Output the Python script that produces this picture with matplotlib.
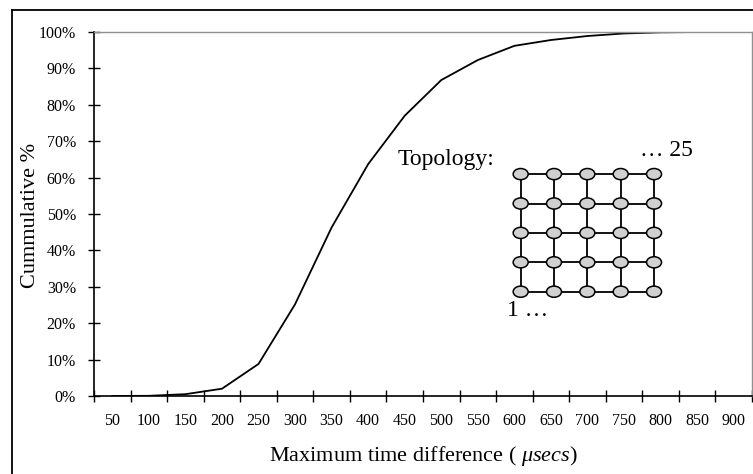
import matplotlib
matplotlib.use("Agg")
import matplotlib.pyplot as plt
from matplotlib.patches import Ellipse
import numpy as np

plt.rcParams['font.family'] = ['Liberation Serif', 'DejaVu Serif']
plt.rcParams['mathtext.fontset'] = 'custom'
plt.rcParams['mathtext.rm'] = 'Liberation Serif'
plt.rcParams['mathtext.it'] = 'Liberation Serif:italic'

# cumulative distribution of the maximum time difference
time_bins = [50, 100, 150, 200, 250, 300, 350, 400, 450, 500,
             550, 600, 650, 700, 750, 800, 850, 900]
cumulative_pct = [0.0, 0.05, 0.5, 2.0, 8.8, 25.2, 46.3, 63.7, 77.0, 86.8,
                  92.3, 96.2, 97.8, 98.9, 99.6, 99.9, 100.0, 100.0]
y_ticks = list(range(0, 101, 10))
grid_n = 5

W, H = 753, 474
fig = plt.figure(figsize=(W / 100, H / 100), dpi=100)

# outer chart frame (left and top edges only, the rest runs off the image)
fig.add_artist(plt.Line2D([12 / W, 12 / W], [0, 1 - 10 / H], color='black', lw=1.3))
fig.add_artist(plt.Line2D([12 / W, 1], [1 - 10 / H, 1 - 10 / H], color='black', lw=1.3))

ax = fig.add_axes([94 / W, 1 - 396 / H, (752 - 94) / W, (396 - 32) / H])
pos = np.arange(len(time_bins)) + 0.5
ax.plot(pos, cumulative_pct, color='black', lw=1.3)

ax.set_xlim(0, len(time_bins))
ax.set_ylim(0, 100)
ax.set_xticks(np.arange(len(time_bins) + 1))
ax.set_xticklabels([])
ax.set_xticks(pos, minor=True)
ax.set_xticklabels([str(t) for t in time_bins], minor=True)
ax.set_yticks(y_ticks)
ax.set_yticklabels([f'{v}%' for v in y_ticks])

ax.tick_params(axis='x', which='major', direction='inout', length=8, width=1)
ax.tick_params(axis='x', which='minor', length=0, pad=12, labelsize=11.5)
ax.tick_params(axis='y', direction='inout', length=8, width=1, pad=9, labelsize=11.5)

for side in ('top', 'right'):
    ax.spines[side].set_color('#909090')
    ax.spines[side].set_linewidth(1)
for side in ('left', 'bottom'):
    ax.spines[side].set_linewidth(1.2)

fig.text(423 / W, 1 - 456 / H, 'Maximum time difference ( $\\mathit{\u03bcsecs}$)',
         ha='center', va='center', fontsize=16)
fig.text(31 / W, 1 - 215 / H, 'Cummulative %', rotation=90,
         ha='center', va='center', fontsize=16)

# 5x5 mesh topology sketch
ins = fig.add_axes([504 / W, 1 - 306.4 / H, 166.7 / W, 147 / H])
ins.set_xlim(-0.5, grid_n - 0.5)
ins.set_ylim(-0.5, grid_n - 0.5)
ins.axis('off')
for i in range(grid_n):
    ins.plot([0, grid_n - 1], [i, i], color='black', lw=1.3, zorder=1)
    ins.plot([i, i], [0, grid_n - 1], color='black', lw=1.3, zorder=1)
for gx in range(grid_n):
    for gy in range(grid_n):
        ins.add_patch(Ellipse((gx, gy), 0.45, 0.38, facecolor='#d0d0d0',
                              edgecolor='black', lw=1.1, zorder=2))

fig.text(398 / W, 1 - 160 / H, 'Topology:', ha='left', va='center', fontsize=17)
fig.text(640 / W, 1 - 150 / H, '\u2026 25', ha='left', va='center', fontsize=17)
fig.text(507 / W, 1 - 310 / H, '1 \u2026', ha='left', va='center', fontsize=17)

fig.savefig('out.png', dpi=100)
